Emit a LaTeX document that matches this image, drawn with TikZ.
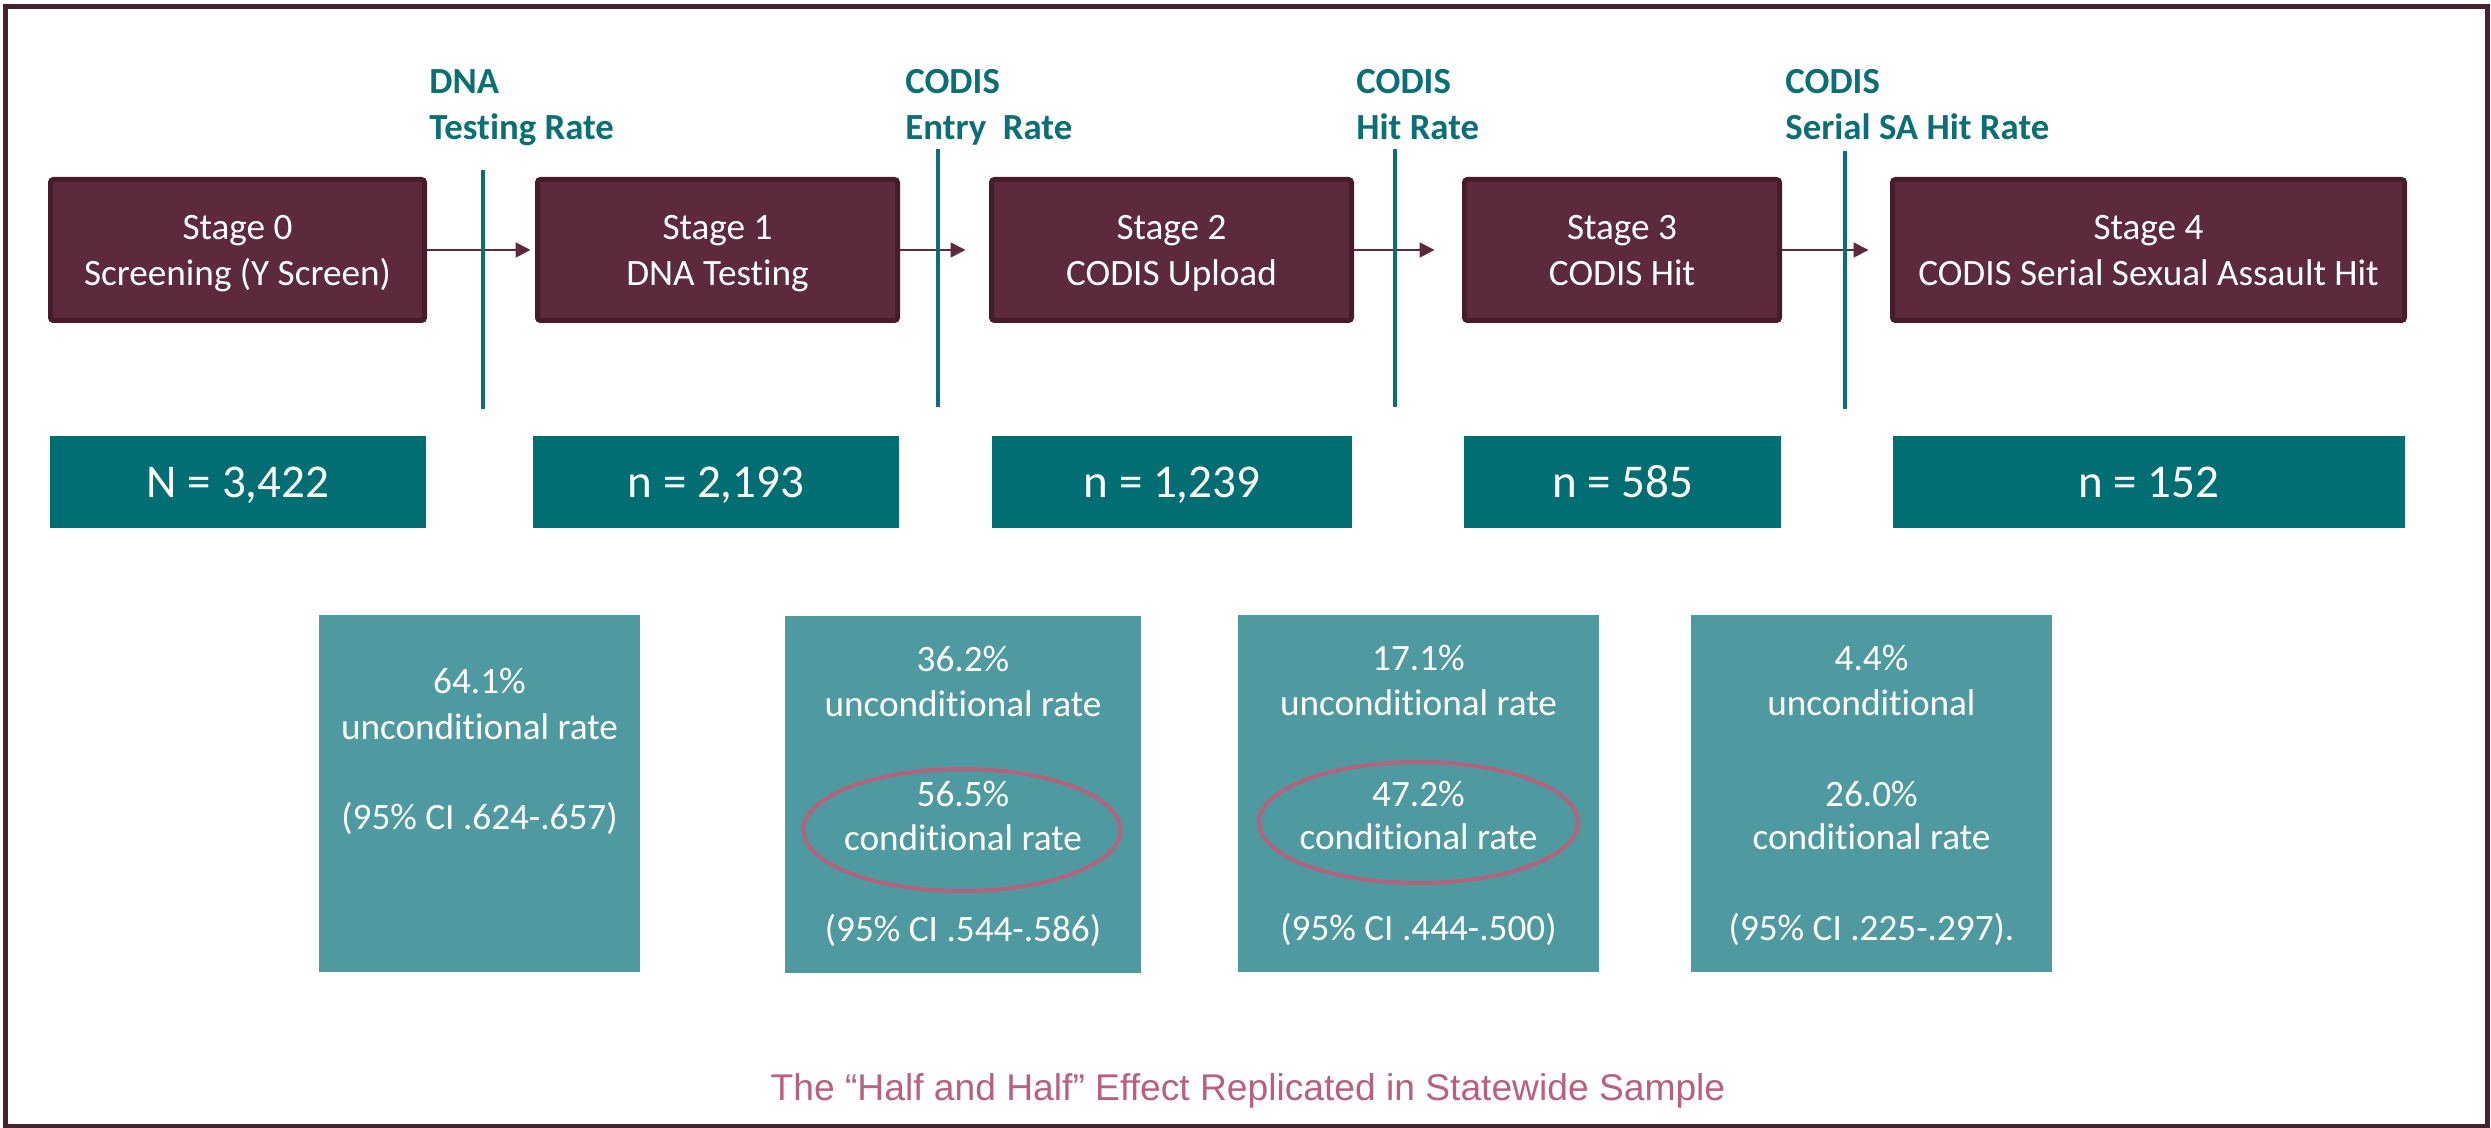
\documentclass[tikz,border=0pt]{standalone}
\usepackage{fontspec}
\setmainfont{Carlito}[Ligatures=NoCommon]
\newfontfamily\capfont{Liberation Sans}
\usetikzlibrary{arrows.meta,shapes.geometric}
\definecolor{maroonfill}{HTML}{5C2A3C}
\definecolor{maroonedge}{HTML}{461C2B}
\definecolor{framec}{HTML}{4A1F2E}
\definecolor{tealdark}{HTML}{006E73}
\definecolor{teallab}{HTML}{0B6F75}
\definecolor{teallight}{HTML}{4F9AA0}
\definecolor{rosec}{HTML}{B4637F}
\definecolor{capc}{HTML}{B9607F}
\begin{document}
\begin{tikzpicture}[x=0.5pt,y=-0.5pt,
 stagebox/.style={draw=maroonedge,fill=maroonfill,line width=2.5pt,rounded corners=1.5pt,minimum height=70.5pt,inner sep=0pt},
 stagetxt/.style={text=white,font=\fontsize{18.6}{23}\selectfont,anchor=base,inner sep=0pt},
 nbox/.style={fill=tealdark,minimum height=46pt,text=white,font=\fontsize{23.5}{28}\selectfont,inner sep=0pt,text height=16pt,text depth=0pt},
 ratebox/.style={fill=teallight,minimum height=178.5pt,inner sep=0pt},
 stat/.style={text=white,font=\fontsize{18.6}{22.5}\selectfont,anchor=base,inner sep=0pt},
 ratelab/.style={text=teallab,font=\bfseries\fontsize{18.4}{23}\selectfont,anchor=base west,inner sep=0pt},
 divider/.style={draw=teallab,line width=2pt},
 flow/.style={draw=maroonfill,line width=0.9pt,-{Triangle[length=7.5pt,width=7.5pt]}},
 ring/.style={draw=rosec,line width=2pt,ellipse,inner sep=0pt}
]
% page
\fill[white] (0,0) rectangle (2491,1128);
\useasboundingbox (0,0) rectangle (2491,1128);
\draw[framec,line width=2.5pt] (5,7) rectangle (2487,1126);

% stage boxes
\node[stagebox,minimum width=187pt] (s0) at (237.5,250) {};
\node[stagebox,minimum width=180pt] (s1) at (717.5,250) {};
\node[stagebox,minimum width=180pt] (s2) at (1171.5,250) {};
\node[stagebox,minimum width=157.5pt] (s3) at (1622,250) {};
\node[stagebox,minimum width=256pt] (s4) at (2148.5,250) {};

\node[stagetxt] (s0a) at (237.5,240) {Stage 0};
\node[stagetxt] (s0b) at (237.5,286) {Screening (Y Screen)};
\node[stagetxt] (s1a) at (717.5,240) {Stage 1};
\node[stagetxt] (s1b) at (717.5,286) {DNA Testing};
\node[stagetxt] (s2a) at (1171.5,240) {Stage 2};
\node[stagetxt] (s2b) at (1171.5,286) {CODIS Upload};
\node[stagetxt] (s3a) at (1622,240) {Stage 3};
\node[stagetxt] (s3b) at (1622,286) {CODIS Hit};
\node[stagetxt] (s4a) at (2148.5,240) {Stage 4};
\node[stagetxt] (s4b) at (2148.5,286) {CODIS Serial Sexual Assault Hit};

% arrows
\draw[flow,shorten >=2.25pt] (s0.east) -- (s1.west);
\draw[flow,shorten >=11.75pt] (s1.east) -- (s2.west);
\draw[flow,shorten >=13.75pt] (s2.east) -- (s3.west);
\draw[flow,shorten >=10.75pt] (s3.east) -- (s4.west);

% dividers
\coordinate (d1t) at (483,170);  \coordinate (d1b) at (483,409);
\coordinate (d2t) at (938,149);  \coordinate (d2b) at (938,407);
\coordinate (d3t) at (1394.5,149); \coordinate (d3b) at (1394.5,407);
\coordinate (d4t) at (1845,151); \coordinate (d4b) at (1845,409);
\draw[divider] (d1t) -- (d1b);
\draw[divider] (d2t) -- (d2b);
\draw[divider] (d3t) -- (d3b);
\draw[divider] (d4t) -- (d4b);

% rate labels
\node[ratelab] (l1a) at (429,94) {DNA};
\node[ratelab] (l1b) at (429,140) {Testing Rate};
\node[ratelab] (l2a) at (905,94) {CODIS};
\node[ratelab] (l2b) at (905,140) {Entry~~Rate};
\node[ratelab] (l3a) at (1356,94) {CODIS};
\node[ratelab] (l3b) at (1356,140) {Hit Rate};
\node[ratelab] (l4a) at (1785,94) {CODIS};
\node[ratelab] (l4b) at (1785,140) {Serial SA Hit Rate};

% N boxes
\node[nbox,minimum width=188pt] (n0) at (238,482) {N = 3,422};
\node[nbox,minimum width=183pt] (n1) at (716,482) {n = 2,193};
\node[nbox,minimum width=180pt] (n2) at (1172,482) {n = 1,239};
\node[nbox,minimum width=158.5pt] (n3) at (1622.5,482) {n = 585};
\node[nbox,minimum width=256pt] (n4) at (2149,482) {n = 152};

% rate boxes
\node[ratebox,minimum width=160.5pt] (r1) at (479.5,793.5) {};
\node[ratebox,minimum width=178pt] (r2) at (963,794) {};
\node[ratebox,minimum width=180.5pt] (r3) at (1418.5,793.5) {};
\node[ratebox,minimum width=180.5pt] (r4) at (1871.5,793.5) {};

\node[stat] (r1a) at (479.5,693) {64.1\%};
\node[stat] (r1b) at (479.5,739) {unconditional rate};
\node[stat] (r1c) at (479.5,829) {(95\% CI .624-.657)};

\node[stat] (r2a) at (963,671) {36.2\%};
\node[stat] (r2b) at (963,716) {unconditional rate};
\node[stat] (r2c) at (963,806) {56.5\%};
\node[stat] (r2d) at (963,850) {conditional rate};
\node[stat] (r2e) at (963,941) {(95\% CI .544-.586)};

\node[stat] (r3a) at (1418.5,670) {17.1\%};
\node[stat] (r3b) at (1418.5,715) {unconditional rate};
\node[stat] (r3c) at (1418.5,806) {47.2\%};
\node[stat] (r3d) at (1418.5,849) {conditional rate};
\node[stat] (r3e) at (1418.5,940) {(95\% CI .444-.500)};

\node[stat] (r4a) at (1871.5,670) {4.4\%};
\node[stat] (r4b) at (1871.5,715) {unconditional};
\node[stat] (r4c) at (1871.5,806) {26.0\%};
\node[stat] (r4d) at (1871.5,849) {conditional rate};
\node[stat] (r4e) at (1871.5,940) {(95\% CI .225-.297).};

% highlight ellipses
\node[ring,minimum width=158.5pt,minimum height=61pt] (e2) at (962,830) {};
\node[ring,minimum width=159.5pt,minimum height=60.5pt] (e3) at (1418.5,822.5) {};

% caption
\node[anchor=base,inner sep=0pt,text=capc,font=\capfont\fontsize{18.6}{22}\selectfont] (cap) at (1248,1100) {The “Half and Half” Effect Replicated in Statewide Sample};
\end{tikzpicture}
\end{document}
